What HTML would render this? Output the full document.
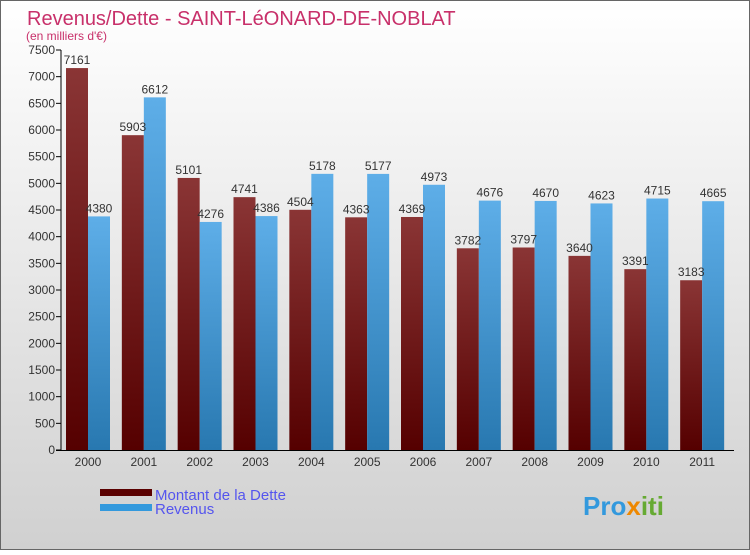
<!DOCTYPE html>
<html><head><meta charset="utf-8"><style>
body{margin:0;width:750px;height:550px;overflow:hidden;font-family:"Liberation Sans",sans-serif}
</style></head><body>
<svg id="c" width="750" height="550" xmlns="http://www.w3.org/2000/svg">
<defs>
<linearGradient id="bg" x1="0" y1="0" x2="0" y2="1"><stop offset="0" stop-color="#ffffff"/><stop offset="1" stop-color="#d0d0d0"/></linearGradient>
<linearGradient id="gd" x1="0" y1="0" x2="0" y2="1"><stop offset="0" stop-color="#8a3535"/><stop offset="1" stop-color="#550000"/></linearGradient>
<linearGradient id="gr" x1="0" y1="0" x2="0" y2="1"><stop offset="0" stop-color="#5eaee8"/><stop offset="1" stop-color="#2878b0"/></linearGradient>
</defs>
<rect x="0.5" y="0.5" width="749" height="549" fill="url(#bg)" stroke="#666"/>
<text x="27" y="25" font-size="20" fill="#c8306a">Revenus/Dette - SAINT-LéONARD-DE-NOBLAT</text>
<text x="26" y="40" font-size="12" fill="#c8306a">(en milliers d'€)</text>
<g id="plot"></g>
<g>
<rect x="100" y="489" width="52" height="7" fill="#5a0000"/>
<text x="155" y="500" font-size="15" fill="#5555ee">Montant de la Dette</text>
<rect x="100" y="504" width="52" height="7" fill="#3399dd"/>
<text x="155" y="514" font-size="15" fill="#5555ee">Revenus</text>
</g>
<text x="583" y="515" font-size="26" font-weight="bold" fill="#3399dd">Pro<tspan fill="#ee8800">x</tspan><tspan fill="#66aa33">iti</tspan></text>
</svg>
<script>
const years=["2000","2001","2002","2003","2004","2005","2006","2007","2008","2009","2010","2011"];
const dette=[7161,5903,5101,4741,4504,4363,4369,3782,3797,3640,3391,3183];
const revenus=[4380,6612,4276,4386,5178,5177,4973,4676,4670,4623,4715,4665];
const yTicks=[0,500,1000,1500,2000,2500,3000,3500,4000,4500,5000,5500,6000,6500,7000,7500];
const NS="http://www.w3.org/2000/svg";
const g=document.getElementById('plot');
const x0=62,x1=732,y0=450,y1=50,yMax=7500;
const gw=(x1-x0)/years.length;
const Y=v=>y0-(v/yMax)*(y0-y1);
const X=i=>x0+i*gw;
function mk(t,a){const e=document.createElementNS(NS,t);for(const k in a)e.setAttribute(k,a[k]);g.appendChild(e);return e;}
yTicks.forEach(t=>{
 const l=mk('line',{x1:56,x2:61,y1:Y(t),y2:Y(t),stroke:'#000'});
 
 
 const tx=mk('text',{x:55,y:Y(t)+4,'font-size':12,'text-anchor':'end',fill:'#333'});
 tx.textContent=t;
 
 
});
years.forEach((yr,i)=>{
 const bx=X(i)+4;
 const d=mk('rect',{x:bx,y:Y(dette[i]),width:22,height:y0-Y(dette[i]),fill:'url(#gd)'});
 
 
 const r=mk('rect',{x:bx+22,y:Y(revenus[i]),width:22,height:y0-Y(revenus[i]),fill:'url(#gr)'});
 
 
 const ld=mk('text',{x:bx+11,y:Y(dette[i])-4,'font-size':12,'text-anchor':'middle',fill:'#333'});
 ld.textContent=dette[i];
 
 
 const lr=mk('text',{x:bx+33,y:Y(revenus[i])-4,'font-size':12,'text-anchor':'middle',fill:'#333'});
 lr.textContent=revenus[i];
 
 
 const xl=mk('text',{x:bx+22,y:466,'font-size':12,'text-anchor':'middle',fill:'#333'});
 xl.textContent=yr;
 
 
});
const ya=mk('line',{x1:61,x2:61,y1:50,y2:450,stroke:'#000'});


const xa=mk('line',{x1:56,x2:734,y1:450.5,y2:450.5,stroke:'#000'});


</script>
</body></html>
